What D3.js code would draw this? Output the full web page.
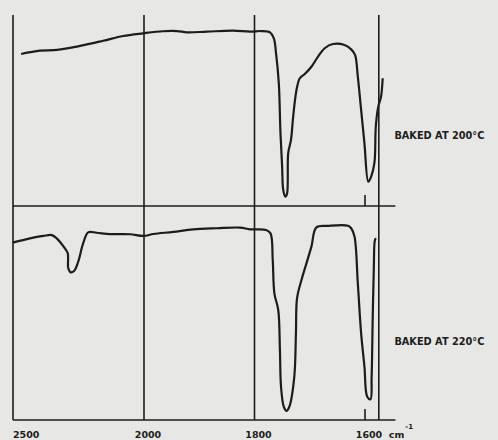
<!DOCTYPE html>
<html>
<head>
<meta charset="utf-8">
<script src="https://cdn.jsdelivr.net/npm/d3@7"></script>
<style>
    body { margin: 0; background: #e7e7e5; }
    svg { display: block; }
    text { font-family: "DejaVu Sans", sans-serif; font-weight: bold; fill: #1c1c1c; }
</style>
</head>
<body>
<svg id="chart" width="498" height="440"></svg>
<script>
// wavenumber (cm-1) and transmittance (%)
const wn200 = [2469, 2397, 2332, 2244, 2156, 2080, 2004, 1966, 1940, 1922, 1886, 1839, 1808, 1788, 1772, 1765, 1761, 1756, 1753, 1750, 1748, 1744, 1741, 1739, 1734, 1730, 1724, 1718, 1709, 1697, 1685, 1673, 1658, 1637, 1625, 1618, 1613, 1607, 1601, 1594, 1589, 1583, 1581, 1580, 1576, 1571, 1568];
const t200 = [79.6, 81.3, 81.7, 83.8, 86.5, 89, 90.4, 91.5, 91.6, 90.9, 91.3, 91.8, 91.3, 91.6, 90.9, 87.8, 79.9, 64.2, 38.2, 20.6, 8.4, 4.9, 6.6, 27.7, 34.6, 46.8, 60.7, 66.9, 69.1, 72.9, 78.2, 82.6, 84.8, 84.3, 82, 79.1, 67.7, 50.3, 32.8, 12.7, 15.3, 22.4, 38.1, 43.3, 52, 57.2, 66.9];

const wn220 = [2501, 2435, 2384, 2352, 2333, 2302, 2291, 2289, 2280, 2267, 2251, 2232, 2213, 2181, 2130, 2053, 2002, 1983, 1947, 1911, 1868, 1826, 1808, 1779, 1771, 1767, 1764, 1757, 1754, 1752, 1747, 1742, 1737, 1728, 1725, 1723, 1715, 1706, 1697, 1688, 1667, 1631, 1625, 1619, 1613, 1607, 1601, 1596, 1590, 1588, 1586, 1584, 1582, 1580];
const t220 = [82.9, 84.9, 86, 86.4, 84.9, 80.2, 77.9, 70.9, 69, 69.6, 74, 82.6, 87.7, 87.5, 86.9, 86.8, 86, 86.9, 87.9, 89.1, 89.6, 89.9, 89.1, 88.8, 87.2, 74.8, 59.2, 51.4, 32.7, 15.6, 6.2, 4.3, 6.2, 20.2, 40.5, 56.9, 65.4, 73.2, 81, 90, 90.7, 90.8, 89.6, 85.7, 63.9, 40.5, 24.9, 10.9, 9.7, 20.2, 48.3, 71.6, 84.1, 84.9];

const gridLines = [2500, 2000, 1800, 1575];
const tickLabels = ["2500", "2000", "1800", "1600"];
const panelLabels = ["BAKED AT 200°C", "BAKED AT 220°C"];

const svg = d3.select("#chart");
const ink = "#1c1c1c";

// chart paper changes scale at 2000 cm-1
const x = d3.scaleLinear()
    .domain([2500, 2000, 1600])
    .range([13, 144, 365]);

const panels = [
    { wn: wn200, t: t200, y: d3.scaleLinear().domain([0, 100]).range([206, 15]), label: panelLabels[0] },
    { wn: wn220, t: t220, y: d3.scaleLinear().domain([0, 100]).range([420, 206]), label: panelLabels[1] }
];

const frame = svg.append("g")
    .attr("stroke", ink)
    .attr("stroke-width", 1.6);

const yTop = panels[0].y(100);
const yBottom = panels[1].y(0);

frame.selectAll(".vline")
    .data(gridLines)
    .enter()
    .append("line")
    .attr("x1", d => x(d))
    .attr("x2", d => x(d))
    .attr("y1", yTop)
    .attr("y2", yBottom);

// horizontal base lines, running a bit past the right edge
frame.selectAll(".hline")
    .data(panels)
    .enter()
    .append("line")
    .attr("x1", x(2500))
    .attr("x2", x(1545))
    .attr("y1", d => d.y(0))
    .attr("y2", d => d.y(0));

// short tick at 1600
frame.selectAll(".tick")
    .data(panels)
    .enter()
    .append("line")
    .attr("x1", x(1600))
    .attr("x2", x(1600))
    .attr("y1", d => d.y(0))
    .attr("y2", d => d.y(0) - 11);

const line = d3.line().curve(d3.curveCatmullRom.alpha(0.5));

svg.selectAll(".spectrum")
    .data(panels)
    .enter()
    .append("path")
    .attr("fill", "none")
    .attr("stroke", ink)
    .attr("stroke-width", 2.2)
    .attr("stroke-linejoin", "round")
    .attr("d", p => line(p.wn.map((w, i) => [x(w), p.y(p.t[i])])));

svg.selectAll(".plabel")
    .data(panels)
    .enter()
    .append("text")
    .attr("x", x(1545) - 1)
    .attr("y", d => d.y(35))
    .attr("font-size", "10px")
    .attr("textLength", 90)
    .attr("lengthAdjust", "spacingAndGlyphs")
    .text(d => d.label);

// wavenumber labels
svg.selectAll(".xlabel")
    .data(tickLabels)
    .enter()
    .append("text")
    .attr("x", (d, i) => i === 0 ? x(+d) : x(+d) + 4)
    .attr("y", 437.5)
    .attr("font-size", "9.5px")
    .attr("text-anchor", (d, i) => i === 0 ? "start" : "middle")
    .text(d => d);

const unit = svg.append("text")
    .attr("x", x(1575) + 10)
    .attr("y", 437.5)
    .attr("font-size", "9.5px")
    .text("cm");
unit.append("tspan")
    .attr("dx", 1)
    .attr("dy", -9)
    .attr("font-size", "7px")
    .text("-1");
</script>
</body>
</html>
